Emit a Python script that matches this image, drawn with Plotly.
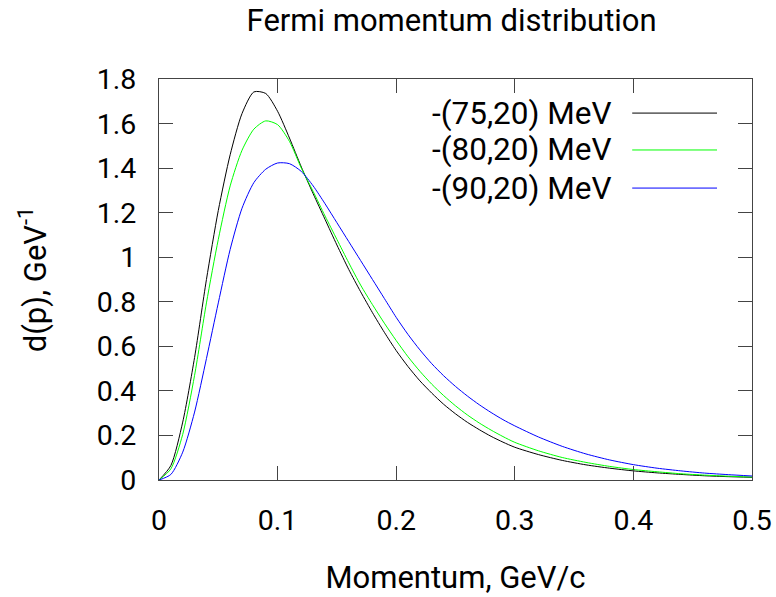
import plotly.graph_objects as go

# momentum grid (GeV/c) and d(p) values
momentum = [0.00, 0.01, 0.02, 0.03, 0.04, 0.05, 0.06, 0.07, 0.08, 0.09,
            0.10, 0.11, 0.12, 0.13, 0.14, 0.15, 0.16, 0.17, 0.18, 0.19,
            0.20, 0.21, 0.22, 0.23, 0.24, 0.25, 0.26, 0.27, 0.28, 0.29,
            0.30, 0.32, 0.34, 0.36, 0.38, 0.40, 0.42, 0.44, 0.46, 0.48, 0.50]

d_75 = [0.0, 0.065, 0.26, 0.55, 0.90, 1.21, 1.46, 1.645, 1.742, 1.735,
        1.655, 1.535, 1.405, 1.285, 1.17, 1.055, 0.945, 0.845, 0.751, 0.663,
        0.581, 0.509, 0.445, 0.39, 0.34, 0.297, 0.259, 0.226, 0.196, 0.17,
        0.147, 0.114, 0.088, 0.068, 0.053, 0.041, 0.032, 0.025, 0.019, 0.015, 0.012]

d_80 = [0.0, 0.05, 0.205, 0.47, 0.795, 1.08, 1.32, 1.48, 1.575, 1.612,
        1.595, 1.52, 1.40, 1.295, 1.185, 1.08, 0.975, 0.875, 0.787, 0.704,
        0.626, 0.553, 0.488, 0.43, 0.379, 0.333, 0.292, 0.256, 0.224, 0.195,
        0.169, 0.131, 0.101, 0.079, 0.061, 0.047, 0.037, 0.028, 0.022, 0.017, 0.013]

d_90 = [0.0, 0.025, 0.125, 0.305, 0.545, 0.795, 1.035, 1.22, 1.335, 1.395,
        1.423, 1.42, 1.385, 1.32, 1.24, 1.155, 1.07, 0.985, 0.90, 0.815,
        0.73, 0.653, 0.584, 0.522, 0.468, 0.42, 0.377, 0.338, 0.303, 0.271,
        0.243, 0.193, 0.151, 0.117, 0.09, 0.069, 0.053, 0.041, 0.031, 0.024, 0.018]

labels = ["-(75,20) MeV", "-(80,20) MeV", "-(90,20) MeV"]
colors = ["#000000", "#00ff00", "#0000ff"]

x_ticks = [0, 0.1, 0.2, 0.3, 0.4, 0.5]
x_ticktext = ["0", "0.1", "0.2", "0.3", "0.4", "0.5"]
y_ticks = [0, 0.2, 0.4, 0.6, 0.8, 1.0, 1.2, 1.4, 1.6, 1.8]
y_ticktext = ["0", "0.2", "0.4", "0.6", "0.8", "1", "1.2", "1.4", "1.6", "1.8"]

fig = go.Figure()
for dy, name, col in zip([d_75, d_80, d_90], labels, colors):
    fig.add_trace(go.Scatter(x=momentum, y=dy, mode="lines", name=name,
                             line=dict(color=col, width=1, shape="spline", smoothing=0.7),
                             showlegend=False))

axis_common = dict(showgrid=False, zeroline=False, showline=True, mirror="ticks",
                   linecolor="#444444", linewidth=1, ticks="inside", ticklen=14,
                   tickcolor="#444444", automargin=False,
                   tickfont=dict(size=28.5, color="black"))

fig.update_layout(
    width=776, height=597,
    paper_bgcolor="white", plot_bgcolor="white",
    font=dict(family="Roboto", color="black"),
    margin=dict(l=159, r=24, t=79, b=117),
    title=dict(text="Fermi momentum distribution", x=0.582, xanchor="center",
               y=0.966, yanchor="middle", font=dict(size=31)),
    xaxis=dict(range=[0, 0.5], tickvals=x_ticks, ticktext=x_ticktext,
               ticklabelstandoff=15,
               title=dict(text="Momentum, GeV/c", font=dict(size=31), standoff=30),
               **axis_common),
    yaxis=dict(range=[0, 1.8], tickvals=y_ticks, ticktext=y_ticktext,
               ticklabelstandoff=16,
               title=dict(text="d(p), GeV<sup>-1</sup>", font=dict(size=31), standoff=40),
               **axis_common),
)

# gnuplot-style key: text on the left, sample line on the right
rows = [0.915, 0.823, 0.728]
for name, col, yy in zip(labels, colors, rows):
    fig.add_annotation(x=0.767, y=yy, xref="paper", yref="paper", text=name,
                       showarrow=False, xanchor="right", yanchor="middle",
                       font=dict(size=31.5, color="black"))
    fig.add_shape(type="line", xref="paper", yref="paper", x0=0.798, x1=0.941,
                  y0=yy, y1=yy, line=dict(color=col, width=1))

# drop the page's default body margin so the figure sits at the window corner
fig.write_html("out.html", config={"displayModeBar": False},
               post_script="document.body.style.margin='0';")
